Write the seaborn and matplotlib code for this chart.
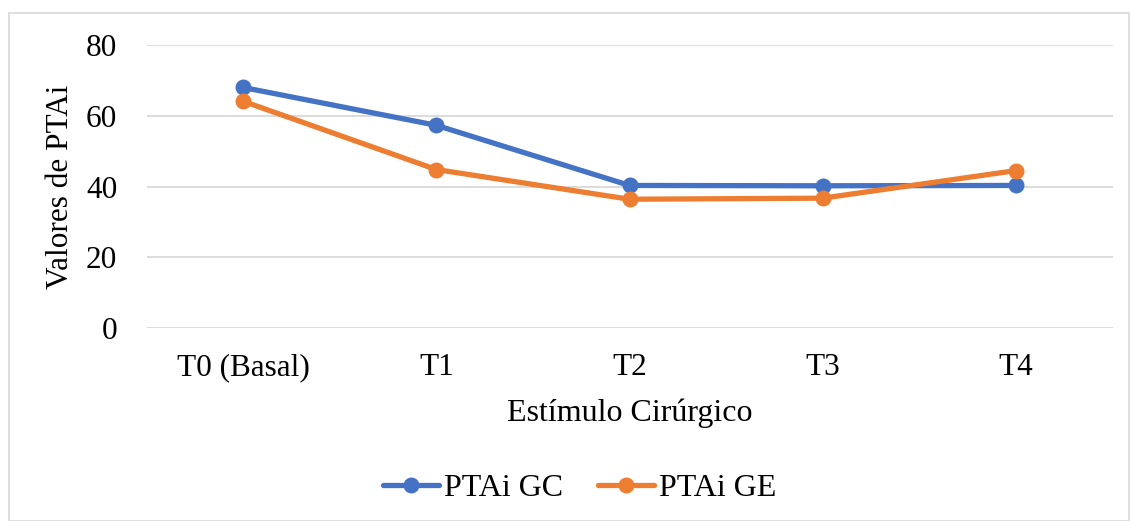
import matplotlib
matplotlib.use("Agg")
import matplotlib.pyplot as plt
import seaborn as sns
import pandas as pd
from matplotlib.patches import Rectangle

categories = ["T0 (Basal)", "T1", "T2", "T3", "T4"]
gc_values = [68.0, 57.3, 40.3, 40.2, 40.3]
ge_values = [64.1, 44.8, 36.4, 36.7, 44.5]
series_names = ["PTAi GC", "PTAi GE"]
yticks = [0, 20, 40, 60, 80]

df = pd.DataFrame({
    "cat": categories * 2,
    "x": list(range(len(categories))) * 2,
    "val": gc_values + ge_values,
    "serie": [series_names[0]] * len(categories) + [series_names[1]] * len(categories),
})

sns.set_theme(style="white")
plt.rcParams["font.family"] = ["Liberation Serif", "DejaVu Serif"]
plt.rcParams["text.color"] = "black"

fig = plt.figure(figsize=(11.3, 5.21), dpi=100)
ax = fig.add_axes([146.5 / 1130, 193 / 521, 966 / 1130, 283 / 521])

sns.lineplot(data=df, x="x", y="val", hue="serie", palette=["#4472C4", "#ED7D31"],
             marker="o", markersize=11.5, markeredgewidth=0, linewidth=3.8, ax=ax,
             legend=True)

ax.set_xlim(-0.5, 4.5)
ax.set_ylim(0, 80)
ax.set_yticks(yticks)
ax.set_xticks(range(len(categories)))
ax.set_xticklabels(categories)
ax.grid(axis="y", color="#d9d9d9", linewidth=1.3)
ax.set_axisbelow(True)
for s in ["top", "right", "left", "bottom"]:
    ax.spines[s].set_visible(False)
ax.tick_params(axis="both", length=0, labelsize=22.5, colors="black")
ax.tick_params(axis="x", pad=18)
ax.tick_params(axis="y", pad=21)
ax.set_xlabel("Estímulo Cirúrgico", fontsize=23, labelpad=12, color="black")
ax.set_ylabel("Valores de PTAi", fontsize=22.5, labelpad=8, color="black")

h, l = ax.get_legend_handles_labels()
leg = ax.legend(h, l, loc="center", bbox_to_anchor=(580 / 1130, 1 - 488 / 521),
                bbox_transform=fig.transFigure, ncol=2, frameon=False, fontsize=23,
                handlelength=1.75, handletextpad=0.15, columnspacing=1.1)
for t in leg.get_texts():
    t.set_color("black")

fig.patches.append(Rectangle((9 / 1130, 0), 1120 / 1130, 1 - 13 / 521,
                             transform=fig.transFigure, fill=False,
                             edgecolor="#d9d9d9", linewidth=1.2))

fig.savefig("out.png", dpi=100)
